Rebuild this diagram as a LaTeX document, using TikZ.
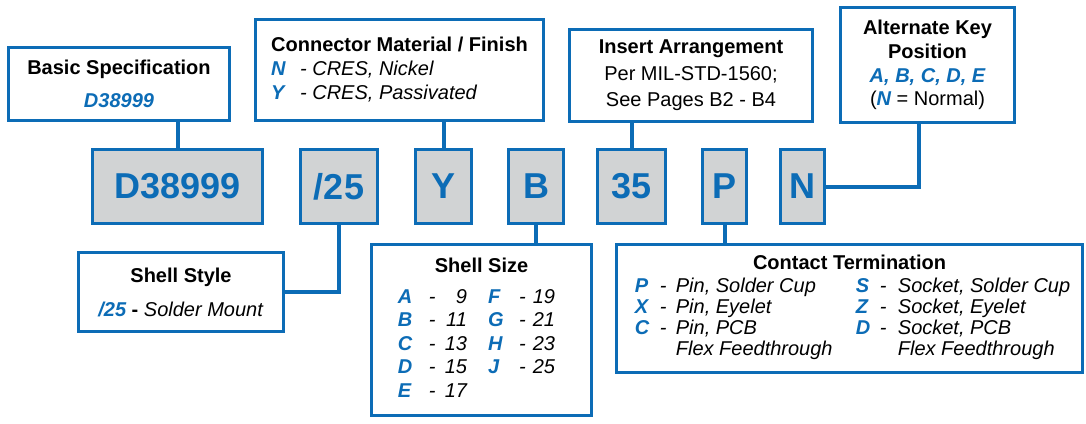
\documentclass[tikz,border=0pt]{standalone}
\usepackage{fontspec}
\setmainfont{Liberation Sans}
\usepackage{array}
\usepackage{xcolor}
\usetikzlibrary{positioning,calc}
\definecolor{keyblue}{RGB}{12,108,182}
\definecolor{codegray}{RGB}{209,211,212}
\newcommand{\keyfont}{\color{keyblue}\bfseries\itshape}

\begin{document}
\begin{tikzpicture}[
    x=0.5pt, y=-0.5pt,
    spec/.style={rectangle, draw=keyblue, line width=1.3pt, fill=white, inner sep=0pt, align=center, font=\fontsize{10}{12}\selectfont},
    code/.style={rectangle, draw=keyblue, line width=1.3pt, fill=codegray, inner sep=0pt, minimum height=37.2pt, text=keyblue, font=\fontsize{18}{20}\selectfont\bfseries},
    link/.style={draw=keyblue, line width=2pt},
]
\useasboundingbox (0,0) rectangle (1086,423);

% Part number
\node[code, minimum width=85.2pt] (cspec) at (177.5,186.5) {D38999};
\node[code, minimum width=38.7pt, right=17.5pt of cspec] (cstyle) {/25};
\node[code, minimum width=28.2pt, right=17.5pt of cstyle] (cy) {Y};
\node[code, minimum width=27.7pt, right=17pt of cy] (cb) {B};
\node[code, minimum width=34.2pt, right=15.5pt of cb] (c35) {35};
\node[code, minimum width=22.2pt, right=17pt of c35] (cp) {P};
\node[code, minimum width=22.2pt, right=15.5pt of cp] (cn) {N};

% Upper legend boxes
\node[spec, minimum width=110.7pt, minimum height=36.7pt] (basic) at (119,84) {\textbf{Basic Specification}\\[4.5pt]{\keyfont D38999}};
\node[spec, minimum width=144.2pt, minimum height=50.7pt, align=left] (finish) at (399.5,70) {\textbf{Connector Material / Finish}\\\makebox[14.5pt][l]{\keyfont N}\textit{- CRES, Nickel}\\\makebox[14.5pt][l]{\keyfont Y}\textit{- CRES, Passivated}};
\node[spec, minimum width=121.7pt, minimum height=46.2pt, font=\fontsize{10}{13.25}\selectfont] (insert) at (691,75.5) {\textbf{Insert Arrangement}\\Per MIL-STD-1560;\\See Pages B2 - B4};
\node[spec, minimum width=87.2pt, minimum height=57.7pt, font=\fontsize{10}{11.85}\selectfont] (altkey) at (927.5,65) {\textbf{Alternate Key}\\\textbf{Position}\\{\keyfont A, B, C, D, E}\\({\keyfont N} = Normal)};

% Lower legend boxes
\node[spec, minimum width=102.7pt, minimum height=39.7pt] (style) at (181,292) {\textbf{Shell Style}\\[5pt]{\keyfont /25} \textbf{-} \textit{Solder Mount}};
\node[spec, minimum width=110.2pt, minimum height=85.7pt, font=\fontsize{10}{11.75}\selectfont] (size) at (481.5,330) {%
  \begin{tabular}{@{}>{\keyfont}w{l}{7.2pt}@{\hspace{8.3pt}}>{\itshape}c@{\hspace{4.6pt}}>{\itshape}r@{\hspace{10.5pt}}>{\keyfont}w{l}{7.8pt}@{\hspace{7.7pt}}>{\itshape}c@{\hspace{3.6pt}}>{\itshape}r@{\hspace{5pt}}}
  \multicolumn{6}{c}{\bfseries Shell Size}\\[3.75pt]
  A & - & 9 & F & - & 19\\
  B & - & 11 & G & - & 21\\
  C & - & 13 & H & - & 23\\
  D & - & 15 & J & - & 25\\
  E & - & 17 & & &
  \end{tabular}};
\node[spec, minimum width=233.2pt, minimum height=64.2pt, font=\fontsize{10}{10.5}\selectfont] (term) at (849.5,308.5) {%
  \begin{tabular}{@{\hspace{3pt}}>{\keyfont}w{l}{7.2pt}@{\hspace{5.3pt}}>{\itshape}c@{\hspace{4.7pt}}>{\itshape}w{l}{90pt}@{}>{\keyfont}w{l}{7.2pt}@{\hspace{4.8pt}}>{\itshape}c@{\hspace{5.7pt}}>{\itshape}l@{}}
  \multicolumn{6}{c}{\bfseries Contact Termination}\\[1pt]
  P & - & Pin, Solder Cup & S & - & Socket, Solder Cup\\
  X & - & Pin, Eyelet & Z & - & Socket, Eyelet\\
  C & - & Pin, PCB & D & - & Socket, PCB\\
  & & Flex Feedthrough & & & Flex Feedthrough
  \end{tabular}};

% Links
\draw[link] (cspec.north) -- (cspec.north |- basic.south);
\draw[link] (cy.north) -- (cy.north |- finish.south);
\draw[link] (c35.north) -- (c35.north |- insert.south);
\draw[link] (cn.east) -| ([xshift=-4.25pt]altkey.south);
\draw[link] (cstyle.south) |- (style.east);
\draw[link] (cb.south) -- (cb.south |- size.north);
\draw[link] (cp.south) -- (cp.south |- term.north);

\end{tikzpicture}
\end{document}
